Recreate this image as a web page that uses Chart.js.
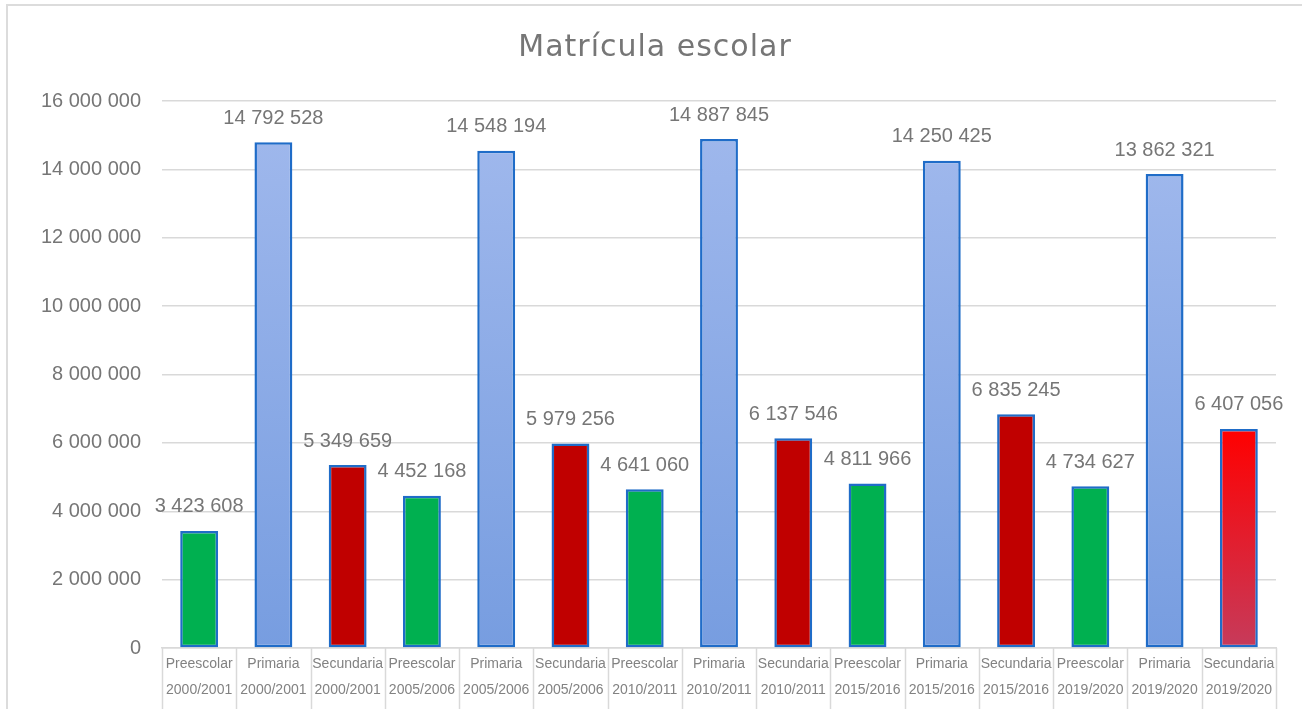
<!DOCTYPE html>
<html>
<head>
<meta charset="utf-8">
<script src="https://cdn.jsdelivr.net/npm/chart.js@4.4.1/dist/chart.umd.min.js"></script>
<style>
  html, body { margin: 0; padding: 0; background: #ffffff; overflow: hidden; }
  #wrap { position: relative; width: 1302px; height: 709px; }
  #frame { position: absolute; left: 6px; top: 4px; width: 1310px; height: 720px; border: 2px solid #dcdcdc; box-sizing: border-box; }
  canvas { position: absolute; left: 0; top: 0; }
</style>
</head>
<body>
<div id="wrap">
  <div id="frame"></div>
  <canvas id="c" width="1302" height="709"></canvas>
</div>
<script>
const chartTitle = 'Matrícula escolar';
const levels = ['Preescolar','Primaria','Secundaria','Preescolar','Primaria','Secundaria','Preescolar','Primaria','Secundaria','Preescolar','Primaria','Secundaria','Preescolar','Primaria','Secundaria'];
const years = ['2000/2001','2000/2001','2000/2001','2005/2006','2005/2006','2005/2006','2010/2011','2010/2011','2010/2011','2015/2016','2015/2016','2015/2016','2019/2020','2019/2020','2019/2020'];
const enrollment = [3423608, 14792528, 5349659, 4452168, 14548194, 5979256, 4641060, 14887845, 6137546, 4811966, 14250425, 6835245, 4734627, 13862321, 6407056];
const yTicks = [0, 2000000, 4000000, 6000000, 8000000, 10000000, 12000000, 14000000, 16000000];

const fmt = v => String(Math.round(v)).replace(/\B(?=(\d{3})+(?!\d))/g, ' ');
const labels = levels.map((l, i) => [l, years[i]]);

function barFill(context) {
  const i = context.dataIndex;
  const chart = context.chart;
  const lvl = levels[i];
  const isLast = i === enrollment.length - 1;
  if (lvl === 'Preescolar') return '#00B050';
  if (lvl === 'Secundaria' && !isLast) return '#C00000';
  const area = chart.chartArea;
  const ys = chart.scales.y;
  if (!area || !ys) return lvl === 'Primaria' ? '#8BAAE6' : '#E8202E';
  const top = ys.getPixelForValue(enrollment[i]);
  const bot = ys.getPixelForValue(0);
  const g = chart.ctx.createLinearGradient(0, top, 0, bot);
  if (lvl === 'Primaria') {
    g.addColorStop(0, '#9EB7EC');
    g.addColorStop(1, '#779DE0');
  } else {
    g.addColorStop(0, '#FF0000');
    g.addColorStop(1, '#C63B5B');
  }
  return g;
}

const decor = {
  id: 'decor',
  afterDraw(chart) {
    const ctx = chart.ctx;
    const xs = chart.scales.x;
    const area = chart.chartArea;
    ctx.save();
    ctx.strokeStyle = '#d9d9d9';
    ctx.lineWidth = 1.5;
    for (let i = 0; i <= enrollment.length; i++) {
      const x = Math.round(xs.getPixelForValue(i - 0.5)) + 0.5;
      ctx.beginPath();
      ctx.moveTo(x, area.bottom);
      ctx.lineTo(x, chart.height);
      ctx.stroke();
    }
    ctx.restore();
    ctx.save();
    ctx.font = '20px "Liberation Sans", Arial, sans-serif';
    ctx.fillStyle = '#767676';
    ctx.textAlign = 'center';
    ctx.textBaseline = 'middle';
    const meta = chart.getDatasetMeta(0);
    meta.data.forEach((bar, i) => {
      ctx.fillText(fmt(enrollment[i]), bar.x, bar.y - 24);
    });
    ctx.restore();
    ctx.save();
    ctx.font = '30px "DejaVu Sans", sans-serif';
    try { ctx.letterSpacing = '1px'; } catch (e) {}
    ctx.fillStyle = '#767676';
    ctx.textAlign = 'center';
    ctx.textBaseline = 'middle';
    ctx.fillText(chartTitle, 655, 48);
    ctx.restore();
  }
};

new Chart(document.getElementById('c'), {
  type: 'bar',
  data: {
    labels: labels,
    datasets: [{
      data: enrollment,
      backgroundColor: barFill,
      borderColor: '#1F6CC8',
      borderWidth: 2.5,
      borderSkipped: false,
      barPercentage: 0.51,
      categoryPercentage: 1.0
    }]
  },
  options: {
    responsive: false,
    animation: false,
    layout: { padding: { left: 0, right: 26, top: 101, bottom: 0 } },
    plugins: {
      legend: { display: false },
      title: { display: false },
      tooltip: { enabled: false }
    },
    scales: {
      x: {
        offset: true,
        grid: { display: false, drawTicks: false },
        border: { display: true, color: '#d9d9d9', width: 1.5 },
        ticks: {
          autoSkip: false,
          maxRotation: 0,
          minRotation: 0,
          padding: 3,
          color: '#828282',
          font: { family: '"Liberation Sans", Arial, sans-serif', size: 14, lineHeight: 1.85 }
        },
        afterFit(scale) { scale.height = 61; }
      },
      y: {
        min: 0,
        max: 16000000,
        afterBuildTicks(scale) { scale.ticks = yTicks.map(v => ({ value: v })); },
        grid: { color: '#d9d9d9', lineWidth: 1.5, drawTicks: false },
        border: { display: false },
        ticks: {
          padding: 21,
          color: '#767676',
          font: { family: '"Liberation Sans", Arial, sans-serif', size: 20 },
          callback: v => fmt(v)
        },
        afterFit(scale) { scale.width = 162; }
      }
    }
  },
  plugins: [decor]
});
</script>
</body>
</html>
